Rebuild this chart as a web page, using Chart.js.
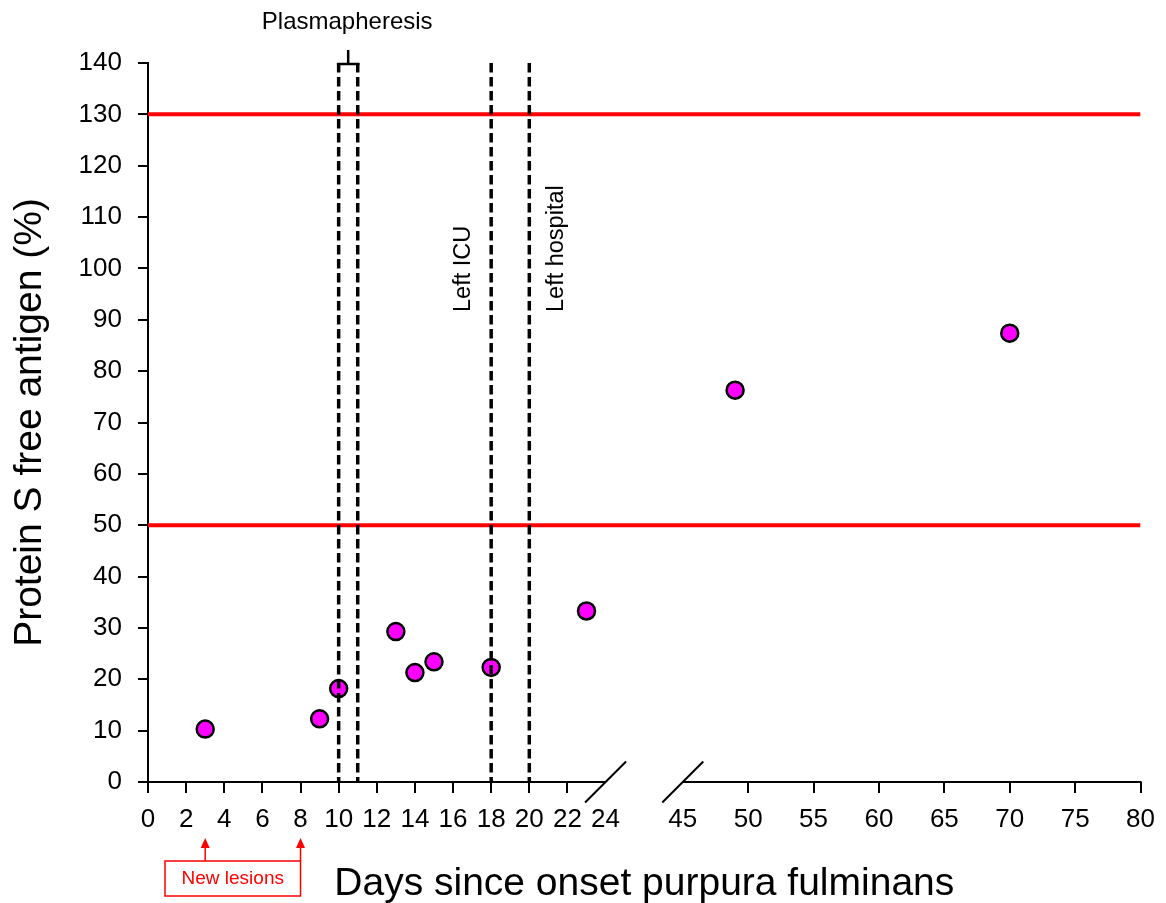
<!DOCTYPE html>
<html><head><meta charset="utf-8">
<script src="https://cdn.jsdelivr.net/npm/chart.js@4.4.1/dist/chart.umd.min.js"></script>
<style>html,body{margin:0;padding:0;background:#fff}canvas{display:block}</style>
</head><body>
<canvas id="c" width="1166" height="903"></canvas>
<script>
// ---- data ----
const days = [3, 9, 10, 13, 14, 15, 18, 23, 49, 70];
const proteinSFree = [10.3, 12.3, 18.2, 29.3, 21.3, 23.4, 22.3, 33.3, 76.3, 87.4];
const normalRange = [50, 130];
const plasmapheresisDays = [10, 11];
const leftIcuDay = 18;
const leftHospitalDay = 20;
const newLesionDays = [3, 8];
const xTicksEarly = [0, 2, 4, 6, 8, 10, 12, 14, 16, 18, 20, 22, 24];
const xTicksLate = [45, 50, 55, 60, 65, 70, 75, 80];
const yMin = 0, yMax = 140, yStep = 10;

// ---- broken x axis transform (0-24 | 45-80) ----
const BREAK_LO = 24, BREAK_HI = 45, GAP = 4.05, LATE_RATIO = 0.686;
function toAxis(d) { return d <= BREAK_LO ? d : BREAK_LO + GAP + (d - BREAK_HI) * LATE_RATIO; }
function fromAxis(u) { return u <= BREAK_LO + GAP / 2 ? u : BREAK_HI + (u - BREAK_LO - GAP) / LATE_RATIO; }
const xMaxDay = xTicksLate[xTicksLate.length - 1];

const FONT = '"Liberation Sans", Arial, sans-serif';

const datasets = [
  {
    label: 'Protein S free antigen',
    data: days.map((d, i) => ({ x: toAxis(d), y: proteinSFree[i] })),
    backgroundColor: '#ff00ff', borderColor: '#000000', borderWidth: 2.5,
    pointRadius: 8.5, pointHoverRadius: 8.5, order: 2
  }
];
normalRange.forEach(v => datasets.push({
  label: 'limit ' + v, showLine: true,
  data: [{ x: 0, y: v }, { x: toAxis(xMaxDay), y: v }],
  borderColor: '#ff0000', borderWidth: 4, pointRadius: 0, order: 3
}));
[...plasmapheresisDays, leftIcuDay, leftHospitalDay].forEach(d => datasets.push({
  label: 'day ' + d, showLine: true,
  data: [{ x: toAxis(d), y: yMax }, { x: toAxis(d), y: yMin }],
  borderColor: '#000000', borderWidth: 3.5, borderDash: [9.5, 4.5], pointRadius: 0, order: 1
}));

const decor = {
  id: 'decor',
  afterDatasetsDraw(chart) {
    const ctx = chart.ctx, xs = chart.scales.x, ys = chart.scales.y;
    const px = d => xs.getPixelForValue(toAxis(d));
    const bottom = ys.getPixelForValue(yMin), top = ys.getPixelForValue(yMax);
    ctx.save();
    ctx.strokeStyle = '#000'; ctx.lineWidth = 2; ctx.lineCap = 'butt';
    // broken x axis line
    ctx.beginPath();
    ctx.moveTo(px(xTicksEarly[0]) - 1, bottom); ctx.lineTo(px(BREAK_LO), bottom);
    ctx.moveTo(px(BREAK_HI), bottom); ctx.lineTo(px(xMaxDay) + 1, bottom);
    ctx.stroke();
    // break slashes
    ctx.beginPath();
    [BREAK_LO, BREAK_HI].forEach(d => {
      const cx = px(d);
      ctx.moveTo(cx - 20.5, bottom + 20.5); ctx.lineTo(cx + 20.5, bottom - 20.5);
    });
    ctx.stroke();
    // plasmapheresis bracket
    const a = px(plasmapheresisDays[0]), b = px(plasmapheresisDays[1]);
    const mid = (a + b) / 2;
    ctx.lineWidth = 2.5;
    ctx.beginPath();
    ctx.moveTo(a - 1.75, top + 1); ctx.lineTo(b + 1.75, top + 1);
    ctx.moveTo(mid, top + 1); ctx.lineTo(mid, top - 13);
    ctx.stroke();
    ctx.fillStyle = '#000';
    ctx.font = '24px ' + FONT;
    ctx.textAlign = 'center'; ctx.textBaseline = 'alphabetic';
    ctx.fillText('Plasmapheresis', mid - 1, 29);
    // rotated labels
    const rot = (txt, x, y) => {
      ctx.save(); ctx.translate(x, y); ctx.rotate(-Math.PI / 2);
      ctx.textAlign = 'left'; ctx.textBaseline = 'alphabetic';
      ctx.fillText(txt, 0, 0); ctx.restore();
    };
    ctx.font = '23.5px ' + FONT;
    rot('Left ICU', px(leftIcuDay) - 21, 312);
    rot('Left hospital', px(leftHospitalDay) + 34, 312);
    // new lesions annotation
    ctx.strokeStyle = '#ff0000'; ctx.fillStyle = '#ff0000'; ctx.lineWidth = 1.5;
    const boxL = 165, boxR = px(newLesionDays[1]), boxT = 861, boxB = 896;
    ctx.strokeRect(boxL, boxT, boxR - boxL, boxB - boxT);
    newLesionDays.forEach(d => {
      const x = px(d);
      ctx.beginPath(); ctx.moveTo(x, boxT); ctx.lineTo(x, 846); ctx.stroke();
      ctx.beginPath(); ctx.moveTo(x, 838); ctx.lineTo(x - 4.5, 848); ctx.lineTo(x + 4.5, 848); ctx.closePath(); ctx.fill();
    });
    ctx.font = '19px ' + FONT;
    ctx.textAlign = 'center'; ctx.textBaseline = 'alphabetic';
    ctx.fillText('New lesions', (boxL + boxR) / 2, 884);
    ctx.restore();
  }
};

new Chart(document.getElementById('c'), {
  type: 'scatter',
  data: { datasets },
  options: {
    responsive: false, animation: false,
    layout: { padding: { top: 63, right: 21, left: 0, bottom: 0 } },
    plugins: { legend: { display: false }, tooltip: { enabled: false } },
    scales: {
      x: {
        type: 'linear', min: 0, max: toAxis(xMaxDay),
        afterBuildTicks: s => { s.ticks = [...xTicksEarly, ...xTicksLate].map(d => ({ value: toAxis(d) })); },
        afterFit: s => { s.height = 121; },
        ticks: {
          autoSkip: false, maxRotation: 0, minRotation: 0, padding: 11,
          color: '#000', font: { family: FONT, size: 26 },
          callback: v => String(Math.round(fromAxis(v)))
        },
        grid: {
          display: true, drawOnChartArea: false, drawTicks: true, tickLength: 11, lineWidth: 2,
          color: c => {
            if (!c.tick) return '#000';
            const d = Math.round(fromAxis(c.tick.value));
            return (d === BREAK_LO || d === BREAK_HI) ? 'rgba(0,0,0,0)' : '#000';
          }
        },
        border: { display: false },
        title: {
          display: true, text: 'Days since onset purpura fulminans', color: '#000',
          font: { family: FONT, size: 39, lineHeight: 1 }, padding: { top: 0, bottom: -1 }
        }
      },
      y: {
        min: yMin, max: yMax,
        afterFit: s => { s.width = 148; },
        ticks: {
          stepSize: yStep, autoSkip: false, padding: 16,
          color: '#000', font: { family: FONT, size: 26 }
        },
        grid: { display: true, drawOnChartArea: false, drawTicks: true, tickLength: 10, lineWidth: 2, color: '#000' },
        border: { display: true, color: '#000', width: 2 },
        title: {
          display: true, text: 'Protein S free antigen (%)', color: '#000',
          font: { family: FONT, size: 39, lineHeight: 1 }, padding: { top: 11, bottom: 0 }
        }
      }
    }
  },
  plugins: [decor]
});
</script>
</body></html>
